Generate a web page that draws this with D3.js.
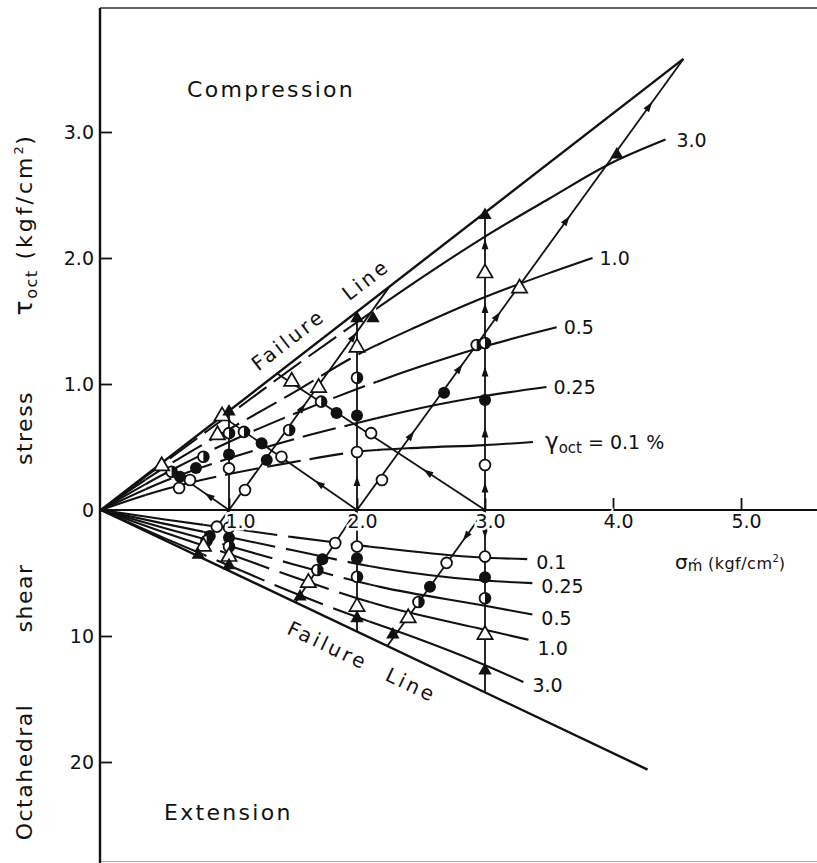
<!DOCTYPE html>
<html>
<head>
<meta charset="utf-8">
<script src="https://cdn.jsdelivr.net/npm/d3@7"></script>
<style>
  html, body { margin: 0; padding: 0; background: #fff; }
  svg { display: block; font-family: "DejaVu Sans", "Liberation Sans", sans-serif; }
</style>
</head>
<body>
<svg id="chart" width="817" height="863"></svg>
<script>
// ---------- axis ticks ----------
const xTickValues = [1, 2, 3, 4, 5];
const xTickLabels = ["1.0", "2.0", "3.0", "4.0", "5.0"];
const yTickValues = [3, 2, 1, 0, -1, -2];
const yTickLabels = ["3.0", "2.0", "1.0", "0", "10", "20"];

// ---------- failure envelopes [σ'm, τoct] (kgf/cm²) ----------
const failureCompression = [[0, 0], [4.55, 3.58]];
const failureExtension = [[0, 0], [4.27, -2.06]];

// ---------- equal-strain contours, compression side ----------
const compLevels = ["3.0", "1.0", "0.5", "0.25", "0.1"];
const comp30 = [[0, 0], [0.5, 0.38], [1.0, 0.755], [1.5, 1.13], [2.0, 1.49], [2.5, 1.84], [3.0, 2.17], [3.5, 2.47], [3.98, 2.75], [4.41, 2.94]];
const comp10 = [[0, 0], [0.5, 0.34], [1.0, 0.64], [1.5, 0.93], [2.0, 1.23], [2.5, 1.47], [3.0, 1.69], [3.5, 1.88], [3.84, 2.0]];
const comp05 = [[0, 0], [0.5, 0.29], [1.0, 0.54], [1.5, 0.76], [2.0, 0.96], [2.5, 1.14], [3.0, 1.30], [3.56, 1.45]];
const comp025 = [[0, 0], [0.5, 0.23], [1.0, 0.41], [1.5, 0.56], [2.0, 0.69], [2.5, 0.81], [3.0, 0.905], [3.48, 0.976]];
const comp01 = [[0, 0], [0.5, 0.165], [1.0, 0.285], [1.5, 0.38], [2.0, 0.462], [2.5, 0.495], [3.0, 0.515], [3.375, 0.54]];

// ---------- equal-strain contours, extension side ----------
const extLevels = ["0.1", "0.25", "0.5", "1.0", "3.0"];
const ext01 = [[0, 0], [0.5, -0.075], [1.0, -0.145], [1.5, -0.215], [2.18, -0.30], [2.94, -0.375], [3.33, -0.39]];
const ext025 = [[0, 0], [0.5, -0.11], [1.0, -0.215], [1.5, -0.32], [2.18, -0.46], [2.945, -0.556], [3.37, -0.58]];
const ext05 = [[0, 0], [0.5, -0.145], [1.0, -0.285], [1.5, -0.43], [2.18, -0.61], [3.0, -0.76], [3.37, -0.83]];
const ext10 = [[0, 0], [0.5, -0.18], [1.0, -0.35], [1.5, -0.53], [2.18, -0.754], [2.94, -0.937], [3.34, -1.03]];
const ext30 = [[0, 0], [0.5, -0.225], [1.0, -0.44], [1.5, -0.655], [2.0, -0.85], [2.44, -1.008], [2.96, -1.214], [3.30, -1.365]];

// ---------- stress paths: start -> failure ----------
const stressPaths = [
  [[1, 0], [1, 0.787]],
  [[2, 0], [2, 1.574]],
  [[3, 0], [3, 2.36]],
  [[1, 0], [2.255, 1.775]],
  [[2, 0], [4.55, 3.58]],
  [[1, 0], [0.474, 0.372]],
  [[2, 0], [0.946, 0.745]],
  [[3, 0], [1.376, 1.083]],
  [[1, 0], [1, -0.4825]],
  [[2, 0], [2, -0.965]],
  [[3, 0], [3, -1.4475]],
  [[1, 0], [0.7457, -0.36]],
  [[2, 0], [1.52, -0.733]],
  [[3, 0], [2.237, -1.079]]
];

// ---------- measured points by octahedral strain level ----------
const pts01 = [[1, 0.33], [0.695, 0.238], [0.61, 0.175], [1.125, 0.159], [1.41, 0.423], [2.11, 0.61], [2, 0.46], [2.195, 0.238], [3, 0.357],
               [0.905, -0.132], [1, -0.14], [1.83, -0.262], [2, -0.29], [2.70, -0.42], [3, -0.37]];
const pts025 = [[1, 0.44], [0.617, 0.264], [0.742, 0.333], [1.295, 0.397], [1.255, 0.53], [1.84, 0.77], [2, 0.75], [2.68, 0.93], [3, 0.873],
                [0.85, -0.206], [1, -0.22], [1.73, -0.39], [2, -0.383], [2.57, -0.61], [3, -0.534]];
const pts05 = [[1, 0.61], [0.552, 0.304], [0.80, 0.423], [1.47, 0.635], [1.117, 0.62], [1.72, 0.86], [2, 1.05], [2.935, 1.31], [3, 1.325],
               [0.825, -0.245], [1, -0.29], [1.69, -0.476], [2, -0.53], [2.48, -0.73], [3, -0.70]];
const pts10 = [[0.474, 0.349], [0.91, 0.595], [0.946, 0.745], [1.70, 0.97], [1.49, 1.02], [2, 1.29], [3.27, 1.76], [3, 1.88],
               [0.80, -0.29], [1, -0.37], [1.62, -0.577], [2, -0.767], [2.40, -0.857], [3, -0.99]];
const pts30 = [[1, 0.78], [2.125, 1.52], [2, 1.52], [4.03, 2.82], [3, 2.34],
               [0.76, -0.357], [1, -0.44], [1.555, -0.688], [2, -0.86], [2.28, -0.99], [3, -1.275]];

// ---------- drawing ----------
const W = 817, H = 863;
const svg = d3.select("#chart");
const ink = "#111";

const x = d3.scaleLinear().domain([0, 5]).range([101, 741]);
const y = d3.scaleLinear().domain([0, 3]).range([510, 132]);

const line = d3.line().x(d => x(d[0])).y(d => y(d[1]));
const smooth = d3.line().x(d => x(d[0])).y(d => y(d[1])).curve(d3.curveMonotoneX);

// clip bands for the solid / long-dash portions of the contours
const defs = svg.append("defs");
function band(id, x0, x1) {
  defs.append("clipPath").attr("id", id).append("rect")
    .attr("x", x0).attr("y", 0).attr("width", x1 - x0).attr("height", H);
}
band("cA", 0, x(0.35)); band("cB", x(0.35), x(2.15)); band("cC", x(2.15), W);
band("eA", 0, x(0.8));  band("eB", x(0.8), x(2.1));   band("eC", x(2.1), W);

// frame
svg.append("line").attr("x1", 100).attr("x2", W).attr("y1", 8).attr("y2", 8)
  .attr("stroke", "#333").attr("stroke-width", 1.6);
svg.append("line").attr("x1", 100).attr("x2", W).attr("y1", 861.5).attr("y2", 861.5)
  .attr("stroke", "#aaa").attr("stroke-width", 1.2);
svg.append("line").attr("x1", 100).attr("x2", 100).attr("y1", 8).attr("y2", H)
  .attr("stroke", ink).attr("stroke-width", 2.4);
svg.append("line").attr("x1", 100).attr("x2", W).attr("y1", y(0)).attr("y2", y(0))
  .attr("stroke", ink).attr("stroke-width", 2);

// failure lines
[failureCompression, failureExtension].forEach(f => {
  svg.append("path").attr("d", line(f)).attr("fill", "none")
    .attr("stroke", ink).attr("stroke-width", 2.4);
});

// contours
function contour(pts, ids, dash) {
  const g = svg.append("g").attr("fill", "none").attr("stroke", ink).attr("stroke-width", 2.1);
  g.append("path").attr("d", smooth(pts)).attr("clip-path", `url(#${ids[0]})`);
  g.append("path").attr("d", smooth(pts)).attr("clip-path", `url(#${ids[1]})`).attr("stroke-dasharray", dash);
  g.append("path").attr("d", smooth(pts)).attr("clip-path", `url(#${ids[2]})`);
}
const compCurves = [comp30, comp10, comp05, comp025, comp01];
const extCurves = [ext01, ext025, ext05, ext10, ext30];
compCurves.forEach(c => contour(c, ["cA", "cB", "cC"], "34 9"));
extCurves.forEach(c => contour(c, ["eA", "eB", "eC"], "52 11"));

// stress paths
const gPaths = svg.append("g").attr("fill", "none").attr("stroke", ink).attr("stroke-width", 1.8);
stressPaths.forEach(p => gPaths.append("path").attr("d", line(p)));

// direction arrows between the measured points on each path
const allPts = [].concat(pts01, pts025, pts05, pts10, pts30);
const gArrows = svg.append("g").attr("fill", ink);
stressPaths.forEach(p => {
  const ax = x(p[0][0]), ay = y(p[0][1]), bx = x(p[1][0]), by = y(p[1][1]);
  const dx = bx - ax, dy = by - ay, L = Math.hypot(dx, dy);
  const ts = [0, 1];
  allPts.forEach(q => {
    const qx = x(q[0]) - ax, qy = y(q[1]) - ay;
    const t = (qx * dx + qy * dy) / (L * L);
    const dist = Math.abs(qx * dy - qy * dx) / L;
    if (dist < 4 && t > 0 && t < 1) ts.push(t);
  });
  ts.sort((a, b) => a - b);
  const ang = Math.atan2(dy, dx) * 180 / Math.PI;
  for (let i = 0; i < ts.length - 1; i++) {
    const gap = (ts[i + 1] - ts[i]) * L;
    if (gap > 42) {
      const tm = (ts[i] + ts[i + 1]) / 2;
      gArrows.append("path").attr("d", "M5,0 L-5,-3.4 L-5,3.4 Z")
        .attr("transform", `translate(${ax + dx * tm},${ay + dy * tm}) rotate(${ang})`);
    }
  }
});

// measured points
const gm = svg.append("g");
const R = 5.4;
pts01.forEach(d => gm.append("circle").attr("cx", x(d[0])).attr("cy", y(d[1])).attr("r", R)
  .attr("fill", "#fff").attr("stroke", ink).attr("stroke-width", 1.8));
pts025.forEach(d => gm.append("circle").attr("cx", x(d[0])).attr("cy", y(d[1])).attr("r", R + 0.6)
  .attr("fill", ink));
pts05.forEach(d => {
  const cx = x(d[0]), cy = y(d[1]);
  gm.append("circle").attr("cx", cx).attr("cy", cy).attr("r", R)
    .attr("fill", "#fff").attr("stroke", ink).attr("stroke-width", 1.8);
  gm.append("path").attr("d", `M${cx},${cy - R} A${R},${R} 0 0 1 ${cx},${cy + R} Z`).attr("fill", ink);
});
const triOpen = d3.symbol(d3.symbolTriangle, 100)();
const triFull = d3.symbol(d3.symbolTriangle, 78)();
pts10.forEach(d => gm.append("path").attr("d", triOpen)
  .attr("transform", `translate(${x(d[0])},${y(d[1])})`)
  .attr("fill", "#fff").attr("stroke", ink).attr("stroke-width", 1.7));
pts30.forEach(d => gm.append("path").attr("d", triFull)
  .attr("transform", `translate(${x(d[0])},${y(d[1])})`).attr("fill", ink));

// axes
const gy = svg.append("g").attr("transform", "translate(100,0)")
  .call(d3.axisLeft(y).tickValues(yTickValues).tickFormat((d, i) => yTickLabels[i])
    .tickSizeInner(-12).tickSizeOuter(0).tickPadding(6));
gy.select(".domain").remove();
gy.selectAll(".tick line").attr("stroke", ink).attr("stroke-width", 1.8).filter(d => d === 0).remove();
gy.selectAll(".tick text").attr("font-size", 19).attr("fill", ink)
  .attr("font-family", "DejaVu Sans, sans-serif");

const gx = svg.append("g").attr("transform", `translate(0,${y(0)})`)
  .call(d3.axisBottom(x).tickValues(xTickValues).tickFormat((d, i) => xTickLabels[i])
    .tickSizeInner(-12).tickSizeOuter(0).tickPadding(5));
gx.select(".domain").remove();
gx.selectAll(".tick line").attr("stroke", ink).attr("stroke-width", 1.8);
gx.selectAll(".tick text").attr("font-size", 19).attr("fill", ink)
  .attr("dx", (d, i) => i === 0 ? 11 : 5)
  .attr("font-family", "DejaVu Sans, sans-serif")
  .attr("stroke", "#fff").attr("stroke-width", 5).attr("paint-order", "stroke");

// contour labels
const gl = svg.append("g").attr("fill", ink).attr("font-size", 19);
compCurves.forEach((c, i) => {
  const e = c[c.length - 1];
  const lab = compLevels[i];
  const t = gl.append("text").attr("x", x(e[0]) + (lab === "3.0" ? 11 : lab === "0.1" ? 12 : 7)).attr("y", y(e[1]) + 7);
  if (lab === "0.1") {
    t.append("tspan").text("γ").attr("font-size", 23);
    t.append("tspan").text("oct").attr("font-size", 15).attr("dy", 4);
    t.append("tspan").text(" = 0.1 %").attr("dy", -4);
  } else {
    t.text(lab);
  }
});
extCurves.forEach((c, i) => {
  const e = c[c.length - 1];
  gl.append("text").attr("x", x(e[0]) + 9).attr("y", y(e[1]) + (extLevels[i] === "1.0" ? 15 : 10)).text(extLevels[i]);
});

// failure line captions
function caption(f, at, off, gap, words) {
  const a = f[0], b = f[1];
  const sx = x(a[0] + (b[0] - a[0]) * at), sy = y(a[1] + (b[1] - a[1]) * at);
  const ang = Math.atan2(y(b[1]) - y(a[1]), x(b[0]) - x(a[0])) * 180 / Math.PI;
  const t = svg.append("text").attr("transform", `translate(${sx},${sy}) rotate(${ang})`)
    .attr("y", off).attr("font-size", 20).attr("letter-spacing", 3).attr("fill", ink);
  t.append("tspan").text(words[0]);
  t.append("tspan").attr("dx", gap).text(words[1]);
}
caption(failureCompression, 1.29 / 4.55, -13, 28, ["Failure", "Line"]);
caption(failureExtension, 1.55 / 4.27, 32, 22, ["Failure", "Line"]);

// region labels
svg.append("text").attr("x", 187).attr("y", 97).attr("font-size", 22).attr("letter-spacing", 2.3)
  .attr("fill", ink).text("Compression");
svg.append("text").attr("x", 164).attr("y", 820).attr("font-size", 22).attr("letter-spacing", 2.3)
  .attr("fill", ink).text("Extension");

// x-axis title
const xt = svg.append("text").attr("x", 675).attr("y", 569).attr("fill", ink).attr("font-size", 16);
xt.append("tspan").text("σ").attr("font-size", 20);
xt.append("tspan").text("ḿ").attr("font-size", 15).attr("dy", 2);
xt.append("tspan").text(" (kgf/cm").attr("dy", -2).attr("letter-spacing", 0.5);
xt.append("tspan").text("2").attr("font-size", 10).attr("dy", -7);
xt.append("tspan").text(")").attr("dy", 7);

// y-axis title, set vertically in four spaced pieces
function yPiece(cy, build) {
  const t = svg.append("text").attr("transform", `translate(32,${cy}) rotate(-90)`)
    .attr("text-anchor", "middle").attr("font-size", 22).attr("fill", ink).attr("letter-spacing", 1.5);
  build(t);
}
yPiece(772, t => t.text("Octahedral"));
yPiece(598, t => t.text("shear"));
yPiece(428, t => t.text("stress"));
yPiece(225, t => {
  t.append("tspan").text("τ").attr("font-size", 25);
  t.append("tspan").text("oct").attr("font-size", 16).attr("dy", 5);
  t.append("tspan").text(" (kgf/cm").attr("dy", -5).attr("letter-spacing", 3);
  t.append("tspan").text("2").attr("font-size", 13).attr("dy", -9);
  t.append("tspan").text(")").attr("dy", 9);
});
</script>
</body>
</html>
